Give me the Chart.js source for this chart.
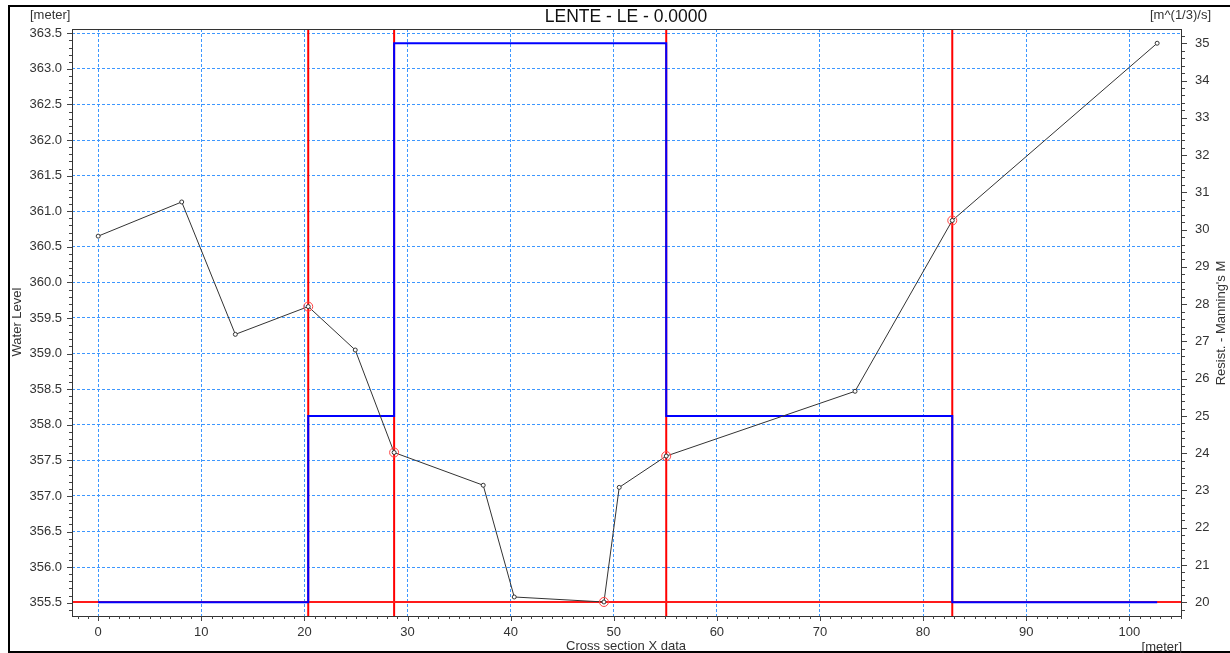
<!DOCTYPE html>
<html>
<head>
<meta charset="utf-8">
<script src="https://cdn.jsdelivr.net/npm/chart.js@4.4.1/dist/chart.umd.min.js"></script>
<style>
  body { margin: 0; background: #fff; }
  #wrap { width: 1230px; height: 653px; }
</style>
</head>
<body>
<div id="wrap"><canvas id="grafico" width="1230" height="653"></canvas></div>
<script>
// perfil do terreno (x em metros, cota em metros)
const xPerfil = [0, 8.1, 13.3, 20.37, 24.93, 28.7, 37.34, 40.35, 49.05, 50.53, 55.09, 73.4, 82.83, 102.7];
const zPerfil = [360.65, 361.13, 359.27, 359.66, 359.05, 357.61, 357.15, 355.58, 355.51, 357.12, 357.56, 358.47, 360.87, 363.36];

// pontos marcados (circulos vermelhos) - indices do perfil
const idxMarcas = [3, 5, 8, 10, 12];

// divisoes da secao (linhas verticais vermelhas)
const xDivisoes = [20.37, 28.7, 55.09, 82.83];

// nivel da agua
const nivelAgua = 355.51;

// Manning's M por trecho
const xManning = [0, 20.37, 28.7, 55.09, 82.83, 102.7];
const mManning = [20, 25, 35, 25, 20, 20];

// limites dos eixos
const xMin = -2.54, xMax = 105.11;
const zMin = 355.313, zMax = 363.56;
const mMin = 19.632, mMax = 35.384;

const fonte = '"Liberation Sans", Arial, sans-serif';

const perfil = xPerfil.map((x, i) => ({x: x, y: zPerfil[i]}));
const marcas = idxMarcas.map(i => ({x: xPerfil[i], y: zPerfil[i]}));
const manning = xManning.map((x, i) => ({x: x, y: mManning[i]}));

const datasets = [];

xDivisoes.forEach(x => {
  datasets.push({
    data: [{x: x, y: zMin}, {x: x, y: zMax}],
    yAxisID: 'y', showLine: true, borderColor: '#ff0000', borderWidth: 2,
    pointRadius: 0, order: 5
  });
});

datasets.push({
  data: [{x: xMin, y: nivelAgua}, {x: xMax, y: nivelAgua}],
  yAxisID: 'y', showLine: true, borderColor: '#ff1a1a', borderWidth: 2,
  pointRadius: 0, order: 4
});

datasets.push({
  data: manning, yAxisID: 'y1', showLine: true, stepped: 'before',
  borderColor: '#0000ff', borderWidth: 2, pointRadius: 0, order: 3
});

datasets.push({
  data: perfil, yAxisID: 'y', showLine: true, borderColor: '#333', borderWidth: 1,
  pointRadius: 2, pointBorderColor: '#333', pointBackgroundColor: '#fff', pointBorderWidth: 1,
  order: 2
});

datasets.push({
  data: marcas, yAxisID: 'y', showLine: false,
  pointRadius: 4.5, pointBorderColor: '#ff4040', pointBackgroundColor: 'rgba(0,0,0,0)', pointBorderWidth: 1,
  order: 1
});

function tracos(ctx, escala, passo, razao, horizontal, lado) {
  ctx.save();
  ctx.strokeStyle = '#444';
  ctx.lineWidth = 1;
  ctx.beginPath();
  for (let k = Math.ceil(escala.min / passo); k * passo <= escala.max + 1e-9; k++) {
    const p = Math.round(escala.getPixelForValue(k * passo)) + 0.5;
    const len = (k % razao === 0) ? 5 : 3;
    if (horizontal) {
      ctx.moveTo(p, escala.top);
      ctx.lineTo(p, escala.top + len);
    } else if (lado === 'left') {
      ctx.moveTo(escala.right, p);
      ctx.lineTo(escala.right - len, p);
    } else {
      ctx.moveTo(escala.left, p);
      ctx.lineTo(escala.left + len, p);
    }
  }
  ctx.stroke();
  ctx.restore();
}

const moldura = {
  id: 'moldura',
  afterDraw(chart) {
    const ctx = chart.ctx;
    const a = chart.chartArea;
    const s = chart.scales;

    // borda do grafico
    ctx.save();
    ctx.strokeStyle = '#333';
    ctx.lineWidth = 1;
    ctx.strokeRect(a.left + 0.5, a.top + 0.5, a.right - a.left - 1, a.bottom - a.top);
    ctx.restore();

    tracos(ctx, s.x, 1, 10, true);
    tracos(ctx, s.y, 0.1, 5, false, 'left');
    tracos(ctx, s.y1, 0.2, 5, false, 'right');

    // moldura da janela
    ctx.save();
    ctx.fillStyle = '#000';
    ctx.fillRect(8, 5, 1222, 2);
    ctx.fillRect(8, 5, 2, 648);
    ctx.fillRect(8, 651, 1222, 2);
    ctx.restore();

    // textos
    ctx.save();
    ctx.fillStyle = '#111';
    ctx.textBaseline = 'middle';
    ctx.font = '17.5px ' + fonte;
    ctx.textAlign = 'center';
    ctx.fillText('LENTE - LE - 0.0000', 626, 17);

    ctx.font = '13px ' + fonte;
    ctx.fillStyle = '#333';
    ctx.textAlign = 'left';
    ctx.fillText('[meter]', 30, 15);
    ctx.textAlign = 'right';
    ctx.fillText('[m^(1/3)/s]', 1211, 15);
    ctx.fillText('[meter]', 1182, 647);
    ctx.textAlign = 'center';
    ctx.fillText('Cross section X data', 626, 646);

    ctx.save();
    ctx.translate(17, 322);
    ctx.rotate(-Math.PI / 2);
    ctx.fillText('Water Level', 0, 0);
    ctx.restore();

    ctx.save();
    ctx.translate(1221, 323);
    ctx.rotate(-Math.PI / 2);
    ctx.fillText("Resist. - Manning's M", 0, 0);
    ctx.restore();
    ctx.restore();
  }
};

const corGrade = '#3d97ff';
const fonteTicks = {family: fonte, size: 13};

new Chart(document.getElementById('grafico').getContext('2d'), {
  type: 'scatter',
  data: {datasets: datasets},
  options: {
    responsive: false,
    animation: false,
    layout: {padding: {left: 0, top: 29, right: 0, bottom: 0}},
    plugins: {legend: {display: false}, tooltip: {enabled: false}, title: {display: false}},
    scales: {
      x: {
        type: 'linear', position: 'bottom', min: xMin, max: xMax,
        afterFit(sc) { sc.height = 37; },
        ticks: {stepSize: 10, includeBounds: false, padding: 9, color: '#333', font: fonteTicks, maxRotation: 0,
                callback: v => v.toFixed(0)},
        grid: {color: corGrade, lineWidth: 1, drawTicks: false},
        border: {display: false, dash: [3, 2]}
      },
      y: {
        type: 'linear', position: 'left', min: zMin, max: zMax,
        afterFit(sc) { sc.width = 72; },
        ticks: {stepSize: 0.5, includeBounds: false, padding: 10, color: '#333', font: fonteTicks,
                callback: v => v.toFixed(1)},
        grid: {color: corGrade, lineWidth: 1, drawTicks: false},
        border: {display: false, dash: [3, 2]}
      },
      y1: {
        type: 'linear', position: 'right', min: mMin, max: mMax,
        afterFit(sc) { sc.width = 48; },
        ticks: {stepSize: 1, includeBounds: false, padding: 13, color: '#333', font: fonteTicks,
                callback: v => v.toFixed(0)},
        grid: {drawOnChartArea: false, drawTicks: false},
        border: {display: false}
      }
    }
  },
  plugins: [moldura]
});
</script>
</body>
</html>
